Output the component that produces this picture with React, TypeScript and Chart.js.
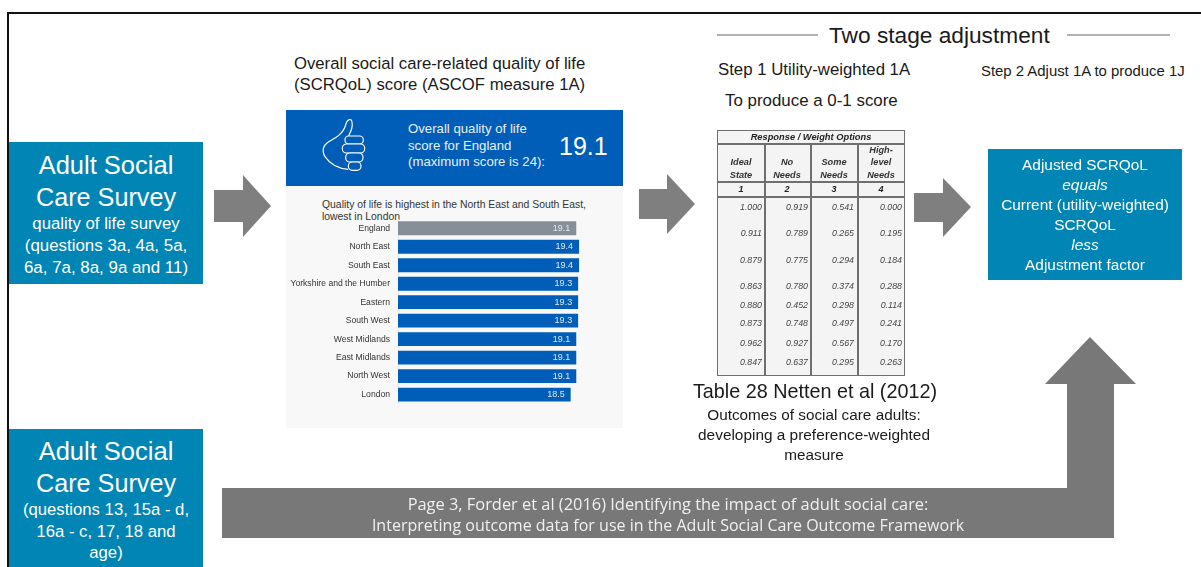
import React, { useEffect, useRef } from "react";
import { Chart, registerables } from "chart.js";

Chart.register(...registerables);

// Regional SCRQoL scores (ASCOF measure 1A)
const regions = [
  "England", "North East", "South East", "Yorkshire and the Humber", "Eastern",
  "South West", "West Midlands", "East Midlands", "North West", "London",
];
const scores = [19.1, 19.4, 19.4, 19.3, 19.3, 19.3, 19.1, 19.1, 19.1, 18.5];
const barColors = ["#868f98", "#005eb8", "#005eb8", "#005eb8", "#005eb8", "#005eb8", "#005eb8", "#005eb8", "#005eb8", "#005eb8"];
const maxScore = 24;

// Response / weight options table
const weightHeads = [["Ideal", "State"], ["No", "Needs"], ["Some", "Needs"], ["High-", "level", "Needs"]];
const weightNumbers = ["1", "2", "3", "4"];
const weightRows = [
  ["1.000", "0.919", "0.541", "0.000"],
  ["0.911", "0.789", "0.265", "0.195"],
  ["0.879", "0.775", "0.294", "0.184"],
  ["0.863", "0.780", "0.374", "0.288"],
  ["0.880", "0.452", "0.298", "0.114"],
  ["0.873", "0.748", "0.497", "0.241"],
  ["0.962", "0.927", "0.567", "0.170"],
  ["0.847", "0.637", "0.295", "0.263"],
];
const weightRowY = [208, 234, 261, 287, 306, 324, 344, 363];
const weightColEnd = [762, 808, 854, 902];
const weightColMid = [741, 787, 834, 881];

const SANS = '"Liberation Sans", Arial, sans-serif';
const TEAL = "#0085b5";
const ARROW = "#7f7f7f";

type LineProps = {
  text: string; cx?: number; left?: number; right?: number; cy: number; size: number;
  color?: string; italic?: boolean; bold?: boolean; font?: string;
};

// One absolutely placed line of text, anchored on its centre, left or right edge
function Line({ text, cx, left, right, cy, size, color = "#1a1a1a", italic, bold, font = SANS }: LineProps) {
  const style: React.CSSProperties = {
    position: "absolute", top: cy - size, lineHeight: `${size * 2}px`, fontSize: size, color,
    fontFamily: font, whiteSpace: "nowrap", fontStyle: italic ? "italic" : "normal",
    fontWeight: bold ? 700 : 400,
  };
  if (cx !== undefined) { style.left = cx - 300; style.width = 600; style.textAlign = "center"; }
  if (left !== undefined) style.left = left;
  if (right !== undefined) { style.left = right - 100; style.width = 100; style.textAlign = "right"; }
  return <div style={style}>{text}</div>;
}

function Box({ x, y, w, h, color }: { x: number; y: number; w: number; h: number; color: string }) {
  return <div style={{ position: "absolute", left: x, top: y, width: w, height: h, background: color }} />;
}

const valueLabels = {
  id: "valueLabels",
  afterDatasetsDraw(chart: Chart) {
    const { ctx } = chart;
    ctx.save();
    ctx.font = `9px ${SANS}`;
    ctx.textAlign = "right";
    ctx.textBaseline = "middle";
    ctx.fillStyle = "#dfe8f2";
    chart.getDatasetMeta(0).data.forEach((bar, i) => {
      ctx.fillText(scores[i].toFixed(1), bar.x - 6, bar.y);
    });
    ctx.restore();
  },
};

function RegionChart() {
  const ref = useRef<HTMLCanvasElement>(null);
  useEffect(() => {
    const chart = new Chart(ref.current!, {
      type: "bar",
      data: {
        labels: regions,
        datasets: [{
          data: scores, backgroundColor: barColors, borderWidth: 0,
          categoryPercentage: 1, barPercentage: 0.75,
        }],
      },
      options: {
        indexAxis: "y", animation: false, responsive: false, maintainAspectRatio: false,
        layout: { padding: { top: 19, bottom: 9.8, right: 1, left: 0 } },
        plugins: { legend: { display: false }, tooltip: { enabled: false } },
        scales: {
          x: { display: false, min: 0, max: maxScore },
          y: {
            grid: { display: false, drawTicks: false },
            border: { color: "#e6e8ea" },
            ticks: { color: "#333333", padding: 8, font: { family: SANS, size: 8.6 }, autoSkip: false },
            afterFit(scale) { scale.width = 112; },
          },
        },
      },
      plugins: [valueLabels],
    });
    return () => chart.destroy();
  }, []);
  return <canvas ref={ref} width={337} height={217} style={{ position: "absolute", left: 286, top: 200, width: 337, height: 217 }} />;
}

function Arrows() {
  return (
    <svg width={1201} height={567} style={{ position: "absolute", left: 0, top: 0 }}>
      <polygon fill={ARROW} points="214,190 243,190 243,175 271,206 243,237 243,222 214,222" />
      <polygon fill={ARROW} points="639,189 667,189 667,174 695,204 667,234 667,219 639,219" />
      <polygon fill={ARROW} points="914,193 943,193 943,178 971,207 943,237 943,222 914,222" />
      <polygon fill="#787878" points="222,488 1067,488 1067,384 1045,384 1090,337 1136,384 1114,384 1114,538 222,538" />
      <line x1={717} x2={818} y1={35} y2={35} stroke="#666" strokeWidth={1.2} />
      <line x1={1067} x2={1170} y1={35} y2={35} stroke="#666" strokeWidth={1.2} />
    </svg>
  );
}

function ThumbIcon() {
  return (
    <svg viewBox="0 0 350 110" width={350} height={110} style={{ position: "absolute", left: 280, top: 100 }}>
      <g transform="scale(0.3333)" fill="none" stroke="#ffffff" strokeWidth={3.5} strokeLinejoin="round">
        <path d="M205 208 C172 206 150 192 135 170 C124 152 130 135 146 125 C170 112 190 100 197 75 C200 58 214 53 216 66 C220 85 210 98 205 110" />
        <rect x={195} y={108} width={55} height={24} rx={11} fill="#005eb8" />
        <rect x={187} y={132} width={67} height={27} rx={13} fill="#005eb8" />
        <rect x={197} y={159} width={52} height={27} rx={13} fill="#005eb8" />
        <rect x={205} y={186} width={38} height={25} rx={12} fill="#005eb8" />
      </g>
    </svg>
  );
}

function WeightTable() {
  const rule = "#6f6f6f";
  return (
    <div style={{ position: "absolute", left: 0, top: 0, width: 1201, height: 567, filter: "blur(0.45px)" }}>
      <Box x={717} y={130} w={188} h={246} color="#f4f4f4" />
      <Box x={717} y={130} w={188} h={1} color={rule} />
      <Box x={717} y={143} w={188} h={1.5} color={rule} />
      <Box x={717} y={181} w={188} h={1.5} color={rule} />
      <Box x={717} y={196} w={188} h={1.5} color={rule} />
      <Box x={717} y={375} w={188} h={1} color={rule} />
      <Box x={717} y={130} w={1} h={246} color={rule} />
      <Box x={904} y={130} w={1} h={246} color={rule} />
      <Box x={764} y={143} w={1.5} h={233} color={rule} />
      <Box x={810} y={143} w={1.5} h={233} color={rule} />
      <Box x={857} y={143} w={1.5} h={233} color={rule} />
      <Line text="Response / Weight Options" cx={811} cy={137} size={9.3} bold italic color="#222" />
      {weightHeads.map((head, c) =>
        head.map((word, k) => (
          <Line key={`${c}-${k}`} text={word} cx={weightColMid[c]} cy={175 - (head.length - 1 - k) * 12.5} size={9.2} bold italic color="#333" />
        )),
      )}
      {weightNumbers.map((n, c) => (
        <Line key={n} text={n} cx={weightColMid[c]} cy={189} size={9} bold italic color="#222" />
      ))}
      {weightRows.map((row, r) =>
        row.map((v, c) => (
          <Line key={`${r}-${c}`} text={v} right={weightColEnd[c]} cy={weightRowY[r]} size={8.8} italic color="#444" />
        )),
      )}
    </div>
  );
}

export default function App() {
  return (
    <div style={{ position: "relative", width: 1201, height: 567, overflow: "hidden", background: "#ffffff" }}>
      <style>{"html,body{margin:0;padding:0;overflow:hidden;background:#fff}"}</style>

      {/* Outer frame: only the top and left rules fall inside the page */}
      <Box x={7} y={12} w={1194} h={2} color="#111" />
      <Box x={7} y={12} w={2} h={555} color="#111" />

      <Arrows />

      {/* Survey boxes */}
      <Box x={9} y={142} w={194} h={142} color={TEAL} />
      <Line text="Adult Social" cx={106} cy={165} size={25.5} color="#fff" />
      <Line text="Care Survey" cx={106} cy={197} size={25.2} color="#fff" />
      <Line text="quality of life survey" cx={106} cy={224} size={16.8} color="#fff" />
      <Line text="(questions 3a, 4a, 5a," cx={106} cy={246} size={16.9} color="#fff" />
      <Line text="6a, 7a, 8a, 9a and 11)" cx={106} cy={268} size={16.9} color="#fff" />

      <Box x={9} y={429} w={194} h={138} color={TEAL} />
      <Line text="Adult Social" cx={106} cy={451} size={25.5} color="#fff" />
      <Line text="Care Survey" cx={106} cy={483} size={25.2} color="#fff" />
      <Line text="(questions 13, 15a - d," cx={106} cy={510} size={16.7} color="#fff" />
      <Line text="16a - c, 17, 18 and" cx={106} cy={532} size={16.7} color="#fff" />
      <Line text="age)" cx={106} cy={553} size={16.7} color="#fff" />

      {/* ASCOF 1A panel */}
      <Line text="Overall social care-related quality of life" left={294} cy={64} size={16.7} />
      <Line text="(SCRQoL) score (ASCOF measure 1A)" left={294} cy={85} size={16.7} />
      <Box x={286} y={186} w={337} h={242} color="#f8f8f8" />
      <Box x={286} y={110} w={337} h={76} color="#005eb8" />
      <ThumbIcon />
      <Line text="Overall quality of life" left={408} cy={129} size={13.2} color="#e8f0f8" />
      <Line text="score for England" left={408} cy={146} size={13.2} color="#e8f0f8" />
      <Line text="(maximum score is 24):" left={408} cy={162} size={13.2} color="#e8f0f8" />
      <Line text="19.1" left={559} cy={146} size={25} color="#fff" />
      <Line text="Quality of life is highest in the North East and South East," left={322} cy={205} size={10.4} color="#333" />
      <Line text="lowest in London" left={322} cy={217} size={10.4} color="#333" />
      <RegionChart />

      {/* Two stage adjustment heading */}
      <Line text="Two stage adjustment" left={829} cy={36} size={22.7} />
      <Line text="Step 1 Utility-weighted 1A" left={718} cy={70} size={16.8} />
      <Line text="To produce a 0-1 score" left={725} cy={101} size={16.9} />
      <Line text="Step 2 Adjust 1A to produce 1J" left={981} cy={72} size={14.9} />

      <WeightTable />
      <Line text="Table 28 Netten et al (2012)" cx={815} cy={392} size={19.8} />
      <Line text="Outcomes of social care adults:" cx={814} cy={415} size={15.3} />
      <Line text="developing a preference-weighted" cx={814} cy={435} size={15.4} />
      <Line text="measure" cx={814} cy={455} size={15.3} />

      {/* Adjusted SCRQoL box */}
      <Box x={988} y={149} w={194} h={131} color={TEAL} />
      <Line text="Adjusted SCRQoL" cx={1085} cy={165} size={15.4} color="#fff" />
      <Line text="equals" cx={1085} cy={185} size={15.4} color="#fff" italic />
      <Line text="Current (utility-weighted)" cx={1085} cy={205} size={15.4} color="#fff" />
      <Line text="SCRQoL" cx={1085} cy={225} size={15.4} color="#fff" />
      <Line text="less" cx={1085} cy={245} size={15.4} color="#fff" italic />
      <Line text="Adjustment factor" cx={1085} cy={265} size={15.4} color="#fff" />

      {/* Text on the long arrow */}
      <Line text="Page 3, Forder et al (2016) Identifying the impact of adult social care:" cx={668} cy={504} size={16.4} color="#f0f0f0" font='"Open Sans", sans-serif' />
      <Line text="Interpreting outcome data for use in the Adult Social Care Outcome Framework" cx={668} cy={525} size={16.05} color="#f0f0f0" font='"Open Sans", sans-serif' />
    </div>
  );
}
